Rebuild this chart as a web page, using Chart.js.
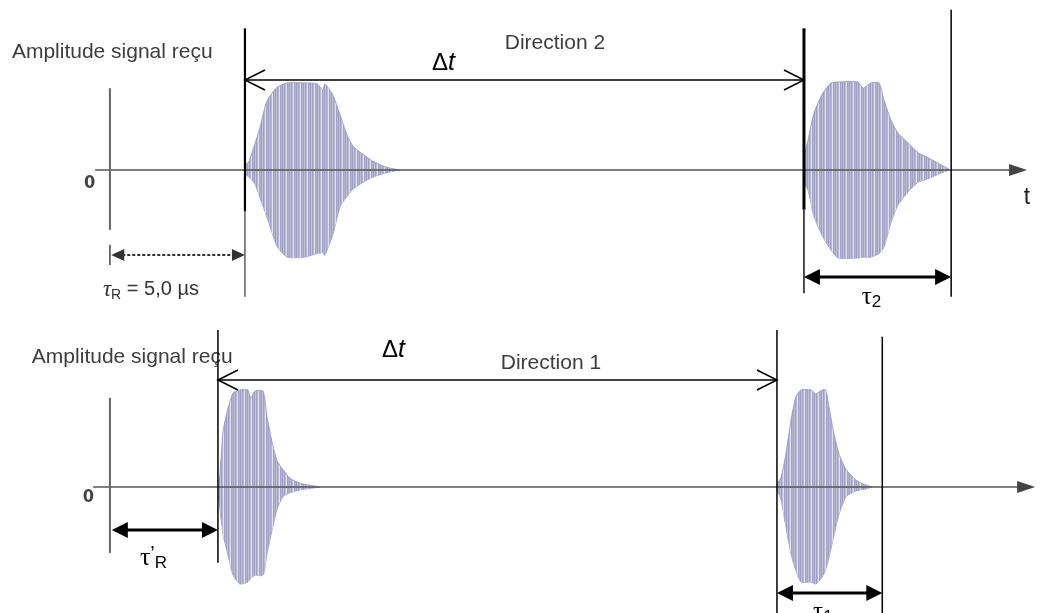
<!DOCTYPE html>
<html>
<head>
<meta charset="utf-8">
<script src="https://cdn.jsdelivr.net/npm/chart.js@4.4.0/dist/chart.umd.min.js"></script>
<style>
  html, body { margin: 0; padding: 0; background: #fff; }
</style>
</head>
<body>
<canvas id="echoChart" width="1040" height="613"></canvas>
<script>
// times in µs, amplitudes normalised to the peak of each trace
const tauR = 5.0;
const tauRPrime = 4.0;
const deltaT = 20.7;
const tau2 = 5.45;
const tau1 = 3.9;

// direction 2, first echo (time measured from its start)
const dir2FirstTimes = [0, 0.15, 0.37, 0.56, 0.81, 1.19, 1.56, 2.22, 2.67, 2.89, 2.96, 3.26, 3.52, 3.78, 4.0, 4.37, 4.74, 5.26, 5.74];
const dir2FirstUpper = [0.05, 0.10, 0.30, 0.49, 0.78, 0.94, 0.99, 0.99, 0.98, 0.91, 0.98, 0.85, 0.63, 0.40, 0.27, 0.18, 0.10, 0.03, 0];
const dir2FirstLower = [0.05, 0.08, 0.16, 0.32, 0.53, 0.87, 0.99, 0.99, 0.95, 0.94, 0.97, 0.73, 0.42, 0.30, 0.22, 0.14, 0.08, 0.03, 0];

// direction 2, second echo
const dir2SecondTimes = [0, 0.15, 0.37, 0.70, 1.0, 1.26, 2.0, 2.19, 2.48, 2.78, 2.96, 3.22, 3.48, 3.85, 4.22, 4.59, 4.96, 5.37];
const dir2SecondUpper = [0.15, 0.34, 0.65, 0.875, 0.99, 1.0, 1.0, 0.93, 0.99, 0.99, 0.80, 0.57, 0.42, 0.31, 0.20, 0.14, 0.08, 0.01];
const dir2SecondLower = [0.15, 0.23, 0.53, 0.76, 0.91, 1.0, 1.0, 0.99, 0.99, 0.95, 0.88, 0.60, 0.40, 0.25, 0.14, 0.10, 0.05, 0];

// direction 1, first echo
const dir1FirstTimes = [0, 0.07, 0.19, 0.37, 0.56, 0.81, 1.11, 1.22, 1.37, 1.67, 1.81, 2.0, 2.19, 2.41, 2.67, 3.04, 3.78];
const dir1FirstUpper = [0.05, 0.12, 0.58, 0.81, 0.97, 1.0, 1.0, 0.92, 0.99, 0.99, 0.74, 0.47, 0.27, 0.18, 0.09, 0.04, 0];
const dir1FirstLower = [0.05, 0.22, 0.49, 0.70, 0.91, 1.0, 0.98, 0.94, 0.91, 0.91, 0.70, 0.45, 0.23, 0.10, 0.06, 0.03, 0];

// direction 1, second echo
const dir1SecondTimes = [0, 0.15, 0.33, 0.52, 0.70, 0.89, 1.26, 1.44, 1.67, 1.81, 1.93, 2.11, 2.30, 2.56, 2.93, 3.30, 3.52];
const dir1SecondUpper = [0.03, 0.10, 0.34, 0.69, 0.93, 1.0, 1.0, 0.96, 1.0, 1.0, 0.82, 0.55, 0.34, 0.18, 0.07, 0.02, 0];
const dir1SecondLower = [0.03, 0.13, 0.41, 0.69, 0.86, 0.98, 0.98, 1.0, 0.93, 0.85, 0.72, 0.50, 0.28, 0.10, 0.04, 0.02, 0];

const canvas = document.getElementById('echoChart');
const ctx2d = canvas.getContext('2d');

// striped fill that imitates the carrier oscillation inside the envelope
function stripes() {
    const c = document.createElement('canvas');
    c.width = 7;
    c.height = 2;
    const g = c.getContext('2d');
    const cols = ['#a3a3c6', '#b5b5d2', '#9e9ec2', '#c2c2da', '#a0a0c4', '#b9b9d4', '#e2e2ee'];
    cols.forEach(function(col, i) {
        g.fillStyle = col;
        g.fillRect(i, 0, 1, 2);
    });
    return ctx2d.createPattern(c, 'repeat');
}
const fillPattern = stripes();

function echo(times, upper, lower, start, axis) {
    return [
        {
            data: times.map((t, i) => ({ x: start + t, y: upper[i] })),
            yAxisID: axis,
            borderColor: 'rgba(150,150,190,0.8)',
            borderWidth: 1,
            backgroundColor: fillPattern,
            fill: '+1',
            pointRadius: 0,
            tension: 0.2
        },
        {
            data: times.map((t, i) => ({ x: start + t, y: -lower[i] })),
            yAxisID: axis,
            borderColor: 'rgba(150,150,190,0.8)',
            borderWidth: 1,
            fill: false,
            pointRadius: 0,
            tension: 0.2
        }
    ];
}

function arrowHead(ctx, x, y, dir, len, half, filled) {
    ctx.beginPath();
    ctx.moveTo(x + dir * len, y - half);
    ctx.lineTo(x, y);
    ctx.lineTo(x + dir * len, y + half);
    if (filled) {
        ctx.closePath();
        ctx.fill();
    } else {
        ctx.stroke();
    }
}

const diagram = {
    id: 'diagram',
    afterDatasetsDraw(chart) {
        const ctx = chart.ctx;
        const sx = chart.scales.x;
        const X = v => sx.getPixelForValue(v);
        const Y = (axis, v) => chart.scales[axis].getPixelForValue(v);

        function seg(axis, x1, a1, x2, a2, w, col, dash) {
            ctx.save();
            ctx.strokeStyle = col;
            ctx.lineWidth = w;
            ctx.setLineDash(dash || []);
            ctx.beginPath();
            ctx.moveTo(X(x1), Y(axis, a1));
            ctx.lineTo(X(x2), Y(axis, a2));
            ctx.stroke();
            ctx.restore();
        }
        function vline(axis, t, a1, a2, w, col) {
            seg(axis, t, a1, t, a2, w || 1.5, col || '#000');
        }
        function dimension(axis, t1, t2, a, opts) {
            const y = Y(axis, a);
            const x1 = X(t1), x2 = X(t2);
            ctx.save();
            ctx.strokeStyle = opts.color;
            ctx.fillStyle = opts.color;
            ctx.lineWidth = opts.width;
            ctx.setLineDash(opts.dash || []);
            ctx.beginPath();
            ctx.moveTo(x1 + (opts.filled ? opts.len - 2 : 0), y);
            ctx.lineTo(x2 - (opts.filled ? opts.len - 2 : 0), y);
            ctx.stroke();
            ctx.setLineDash([]);
            ctx.lineWidth = opts.headWidth || opts.width;
            arrowHead(ctx, x1, y, 1, opts.len, opts.half, opts.filled);
            arrowHead(ctx, x2, y, -1, opts.len, opts.half, opts.filled);
            ctx.restore();
        }
        function text(axis, t, a, str, font, col, align) {
            ctx.save();
            ctx.font = font;
            ctx.fillStyle = col || '#000';
            ctx.textAlign = align || 'left';
            ctx.textBaseline = 'middle';
            ctx.fillText(str, X(t), Y(axis, a));
            ctx.restore();
        }
        // runs of text: [string, font, dy]
        function runs(axis, t, a, parts, col, center) {
            ctx.save();
            ctx.fillStyle = col || '#000';
            ctx.textBaseline = 'middle';
            let total = 0;
            parts.forEach(p => { ctx.font = p[1]; total += ctx.measureText(p[0]).width; });
            let x = X(t) - (center ? total / 2 : 0);
            const y = Y(axis, a);
            parts.forEach(p => {
                ctx.font = p[1];
                ctx.fillText(p[0], x, y + (p[2] || 0));
                x += ctx.measureText(p[0]).width;
            });
            ctx.restore();
        }
        function timeAxis(axis, t1, t2) {
            ctx.save();
            ctx.strokeStyle = '#555';
            ctx.fillStyle = '#444';
            ctx.lineWidth = 1.6;
            const y = Y(axis, 0);
            ctx.beginPath();
            ctx.moveTo(X(t1), y);
            ctx.lineTo(X(t2) - 10, y);
            ctx.stroke();
            arrowHead(ctx, X(t2), y, -1, 18, 6, true);
            ctx.restore();
        }

        const grey = '#3d3d3d';
        const labelFont = '21px "Liberation Sans", Arial, sans-serif';
        const zeroFont = 'bold 18px "Liberation Sans Narrow", "DejaVu Sans Condensed", sans-serif';

        // ---- top panel : direction 2 ----
        timeAxis('yTop', -0.55, 33.96);
        vline('yTop', 0, 0.93, -0.68, 2, '#666');
        text('yTop', -0.75, -0.15, '0', zeroFont, '#444', 'center');
        text('yTop', -3.63, 1.34, 'Amplitude signal reçu', labelFont, grey);
        text('yTop', 33.96, -0.31, 't', '23px "Liberation Sans", Arial, sans-serif', '#222', 'center');

        vline('yTop', tauR, 1.61, -0.47, 2.2);
        vline('yTop', tauR, -0.47, -1.44, 1.2, '#333');
        vline('yTop', tauR + deltaT, 1.61, -0.45, 3);
        vline('yTop', tauR + deltaT, -0.45, -1.40, 1.4);
        vline('yTop', tauR + deltaT + tau2, 1.82, -1.44, 1.5);
        vline('yTop', 0, -0.85, -1.08, 1.5, '#444');

        dimension('yTop', tauR, tauR + deltaT, 1.023, { color: '#000', width: 1.5, len: 20, half: 10, filled: false });
        dimension('yTop', 0.05, tauR, -0.966, { color: '#333', width: 2, dash: [3, 2], len: 13, half: 6, filled: true });
        dimension('yTop', tauR + deltaT, tauR + deltaT + tau2, -1.216, { color: '#000', width: 3, len: 16, half: 8, filled: true });

        runs('yTop', 12.35, 1.216, [['Δ', '24px "Liberation Sans", Arial, sans-serif'], ['t', 'italic 25px "Liberation Sans", Arial, sans-serif']], '#000', true);
        text('yTop', 16.48, 1.44, 'Direction 2', labelFont, grey, 'center');
        runs('yTop', -0.26, -1.36, [
            ['τ', 'italic 23px "Liberation Serif", serif'],
            ['R', '14px "Liberation Sans", Arial, sans-serif', 5],
            [' = 5,0 µs', '20px "Liberation Sans", Arial, sans-serif']
        ], '#333', false);
        runs('yTop', 28.2, -1.45, [
            ['τ', '25px "Liberation Serif", serif'],
            ['2', '17px "Liberation Sans", Arial, sans-serif', 5]
        ], '#000', true);

        // ---- bottom panel : direction 1 ----
        timeAxis('yBot', -0.62, 34.26);
        vline('yBot', 0, 0.92, -0.68, 2, '#666');
        text('yBot', -0.8, -0.11, '0', zeroFont, '#444', 'center');
        text('yBot', -2.89, 1.34, 'Amplitude signal reçu', labelFont, grey);

        vline('yBot', tauRPrime, 1.62, -0.78, 1.5);
        vline('yBot', tauRPrime + deltaT, 1.62, -1.4, 1.5);
        vline('yBot', tauRPrime + deltaT + tau1, 1.55, -1.4, 1.5);

        dimension('yBot', tauRPrime, tauRPrime + deltaT, 1.103, { color: '#000', width: 1.5, len: 20, half: 10, filled: false });
        dimension('yBot', 0.07, tauRPrime, -0.443, { color: '#000', width: 3, len: 16, half: 8, filled: true });
        dimension('yBot', tauRPrime + deltaT, tauRPrime + deltaT + tau1, -1.093, { color: '#000', width: 3, len: 16, half: 8, filled: true });

        runs('yBot', 10.5, 1.41, [['Δ', '24px "Liberation Sans", Arial, sans-serif'], ['t', 'italic 25px "Liberation Sans", Arial, sans-serif']], '#000', true);
        text('yBot', 16.33, 1.28, 'Direction 1', labelFont, grey, 'center');
        runs('yBot', 1.11, -0.73, [
            ['τ', '26px "Liberation Serif", serif'],
            ['’', '20px "Liberation Sans", Arial, sans-serif', -3],
            ['R', '17px "Liberation Sans", Arial, sans-serif', 6]
        ], '#000', false);
        runs('yBot', 26.4, -1.29, [
            ['τ', '25px "Liberation Serif", serif'],
            ['1', '17px "Liberation Sans", Arial, sans-serif', 5]
        ], '#000', true);
    }
};

new Chart(canvas, {
    type: 'line',
    data: {
        datasets: [].concat(
            echo(dir2FirstTimes, dir2FirstUpper, dir2FirstLower, tauR, 'yTop'),
            echo(dir2SecondTimes, dir2SecondUpper, dir2SecondLower, tauR + deltaT, 'yTop'),
            echo(dir1FirstTimes, dir1FirstUpper, dir1FirstLower, tauRPrime, 'yBot'),
            echo(dir1SecondTimes, dir1SecondUpper, dir1SecondLower, tauRPrime + deltaT, 'yBot')
        )
    },
    options: {
        responsive: false,
        animation: false,
        devicePixelRatio: 1,
        layout: { padding: 0 },
        plugins: {
            legend: { display: false },
            tooltip: { enabled: false }
        },
        scales: {
            x: { type: 'linear', min: -4.07, max: 34.44, display: false },
            yTop: { type: 'linear', min: -5.034, max: 1.932, display: false },
            yBot: { type: 'linear', min: -1.299, max: 5.021, display: false }
        }
    },
    plugins: [diagram]
});
</script>
</body>
</html>
